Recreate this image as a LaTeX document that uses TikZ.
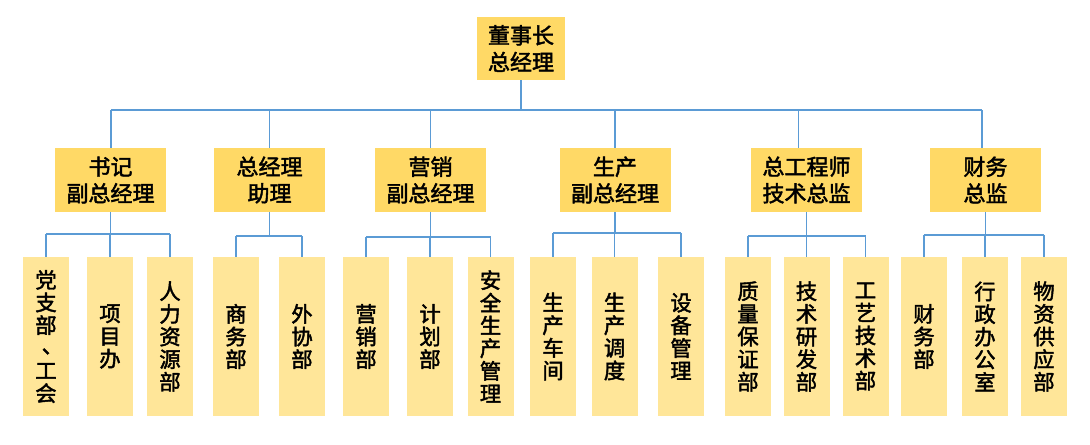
\documentclass[tikz,border=0pt]{standalone}
\usepackage{fontspec}
\setmainfont{Noto Sans CJK SC}[FakeBold=2]
\definecolor{boxA}{HTML}{FFD966}
\definecolor{boxB}{HTML}{FFE699}
\definecolor{lineC}{HTML}{5B9BD5}
\tikzset{
  headbox/.style={fill=boxA, inner sep=0pt, minimum width=83.25pt, minimum height=48pt, align=center, font=\fontsize{16.5}{20}\selectfont},
  topbox/.style={fill=boxA, inner sep=0pt, minimum width=66pt, minimum height=47pt, align=center, font=\fontsize{16.5}{20}\selectfont},
  deptbox/.style={fill=boxB, inner sep=0pt, minimum width=34.5pt, minimum height=119.25pt, align=center, font=\fontsize{16}{17}\selectfont},
  conn/.style={draw=lineC, line width=1.1pt}
}
\newcommand{\vdun}{\makebox[1em][l]{\kern0.3em 、}}
\begin{document}
\begin{tikzpicture}[x=0.75pt,y=-0.75pt]
\useasboundingbox (0,0) rectangle (1090,444);
% top
\node[topbox] (top) at (521,48.5) {董事长\\总经理};
% level 2
\node[headbox] (h1) at (110.5,180) {书记\\副总经理};
\node[headbox] (h2) at (269.5,180) {总经理\\助理};
\node[headbox] (h3) at (430.5,180) {营销\\副总经理};
\node[headbox] (h4) at (615,180) {生产\\副总经理};
\node[headbox] (h5) at (806.5,180) {总工程师\\技术总监};
\node[headbox] (h6) at (985.5,180) {财务\\总监};
% level 3
\node[deptbox] (d1) at (46,336.5) {党\\支\\部\\[-2pt]\vdun\\[2pt]工\\会};
\node[deptbox] (d2) at (110,336.5) {项\\目\\办};
\node[deptbox] (d3) at (170,336.5) {人\\力\\资\\源\\部};
\node[deptbox] (d4) at (236,336.5) {商\\务\\部};
\node[deptbox] (d5) at (302,336.5) {外\\协\\部};
\node[deptbox] (d6) at (366,336.5) {营\\销\\部};
\node[deptbox] (d7) at (430,336.5) {计\\划\\部};
\node[deptbox] (d8) at (490.5,336.5) {安\\全\\生\\产\\管\\理};
\node[deptbox] (d9) at (553,336.5) {生\\产\\车\\间};
\node[deptbox] (d10) at (614.5,336.5) {生\\产\\调\\度};
\node[deptbox] (d11) at (681,336.5) {设\\备\\管\\理};
\node[deptbox] (d12) at (748,336.5) {质\\量\\保\\证\\部};
\node[deptbox] (d13) at (806.5,336.5) {技\\术\\研\\发\\部};
\node[deptbox] (d14) at (865.5,336.5) {工\\艺\\技\\术\\部};
\node[deptbox] (d15) at (924,336.5) {财\\务\\部};
\node[deptbox] (d16) at (985,336.5) {行\\政\\办\\公\\室};
\node[deptbox] (d17) at (1044,336.5) {物\\资\\供\\应\\部};
% main bus
\coordinate (busL) at (111,110);
\coordinate (busR) at (982,110);
\draw[conn] (top.south) -- (top.south |- busL);
\draw[conn] (busL) -- (busR);
\draw[conn] (h1.north -| busL) -- (busL);
\draw[conn] (h2.north) -- (h2.north |- busL);
\draw[conn] (h3.north) -- (h3.north |- busL);
\draw[conn] (h4.north) -- (h4.north |- busL);
\draw[conn] ([xshift=-6pt]h5.north) -- ([xshift=-6pt]h5.north |- busL);
\draw[conn] (h6.north -| busR) -- (busR);
% group buses
\foreach \h/\a/\b/\c/\yy in {h1/d1/d2/d3/234, h3/d6/d7/d8/237, h4/d9/d10/d11/233, h5/d12/d13/d14/236, h6/d15/d16/d17/235}{
  \coordinate (g) at (0,\yy);
  \draw[conn] (\h.south) -- (\h.south |- g);
  \draw[conn] (\a.north |- g) -- (\c.north |- g);
  \draw[conn] (\a.north) -- (\a.north |- g);
  \draw[conn] (\b.north) -- (\b.north |- g);
  \draw[conn] (\c.north) -- (\c.north |- g);
}
\coordinate (g2) at (0,236);
\draw[conn] (h2.south) -- (h2.south |- g2);
\draw[conn] (d4.north |- g2) -- (d5.north |- g2);
\draw[conn] (d4.north) -- (d4.north |- g2);
\draw[conn] (d5.north) -- (d5.north |- g2);
\end{tikzpicture}
\end{document}
